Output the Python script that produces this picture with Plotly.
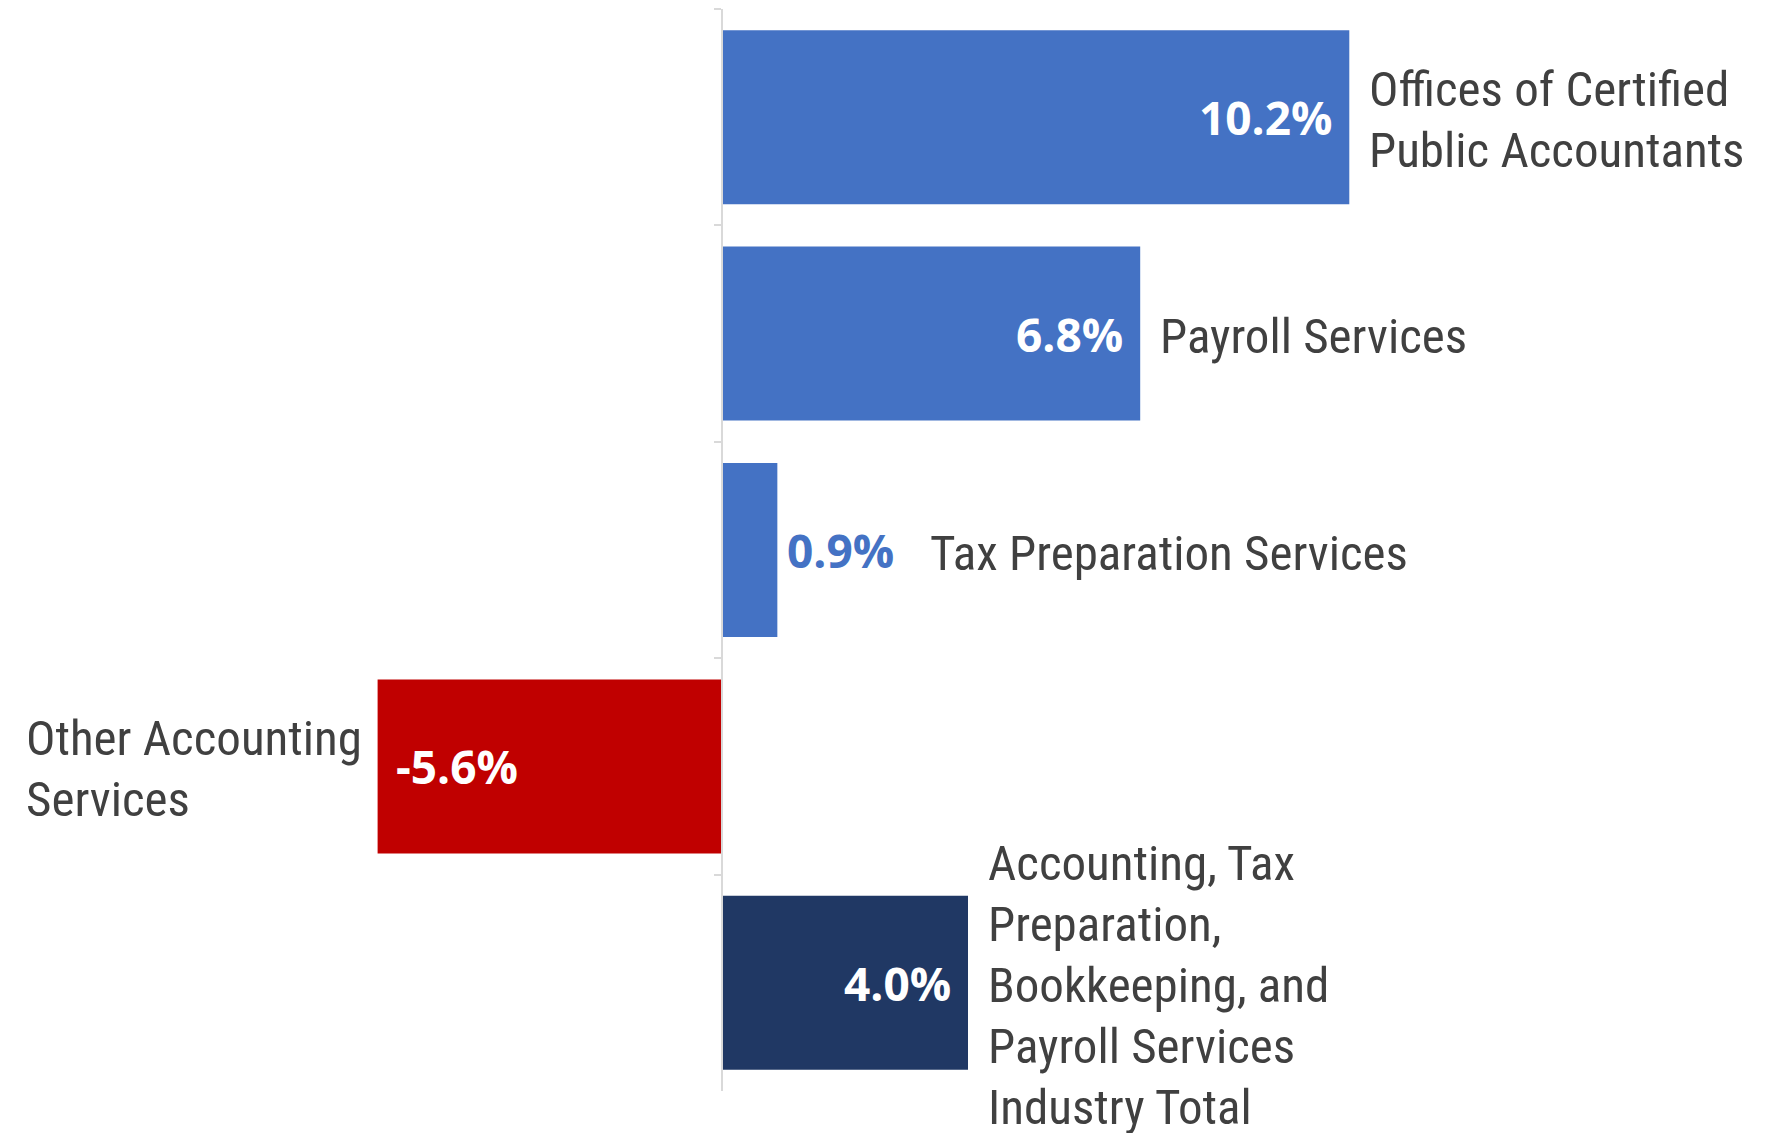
import plotly.graph_objects as go

# ---- data ----
categories = [
    "Offices of Certified Public Accountants",
    "Payroll Services",
    "Tax Preparation Services",
    "Other Accounting Services",
    "Accounting, Tax Preparation, Bookkeeping, and Payroll Services Industry Total",
]
values = [10.2, 6.8, 0.9, -5.6, 4.0]
value_labels = ["10.2%", "6.8%", "0.9%", "-5.6%", "4.0%"]
name_lines = [
    ["Offices of Certified", "Public Accountants"],
    ["Payroll Services"],
    ["Tax Preparation Services"],
    ["Other Accounting", "Services"],
    ["Accounting, Tax", "Preparation,", "Bookkeeping, and", "Payroll Services", "Industry Total"],
]
bar_colors = ["#4472C4", "#4472C4", "#4472C4", "#C00000", "#203864"]

# ---- layout constants ----
W, H = 1767, 1133
zero_px = 722.0
px_per_unit = 61.5
xmin = -zero_px / px_per_unit
xmax = (W - zero_px) / px_per_unit

name_font = dict(family="Liberation Sans Narrow, Arial Narrow, Roboto Condensed, DejaVu Sans Condensed, sans-serif",
                 size=49, color="#404040")
val_font_white = dict(family="Open Sans, Noto Sans, sans-serif", size=46, color="white", weight="bold")
val_font_blue = dict(family="Open Sans, Noto Sans, sans-serif", size=46, color="#4472C4", weight="bold")
line_gap = 61
inside_threshold = 2.0

fig = go.Figure(go.Bar(
    y=categories, x=values, orientation="h",
    marker=dict(color=bar_colors, line=dict(width=0)),
    hoverinfo="skip",
))

ann = []
for cat, v, vl, lines in zip(categories, values, value_labels, name_lines):
    inside = abs(v) > inside_threshold
    n = len(lines)
    if v >= 0:
        if inside:
            ann.append(dict(x=v, y=cat, xref="x", yref="y", text=vl, showarrow=False,
                            xanchor="right", yanchor="middle", xshift=-15, font=val_font_white))
            name_shift = 18
        else:
            ann.append(dict(x=v, y=cat, xref="x", yref="y", text=vl, showarrow=False,
                            xanchor="left", yanchor="middle", xshift=8, font=val_font_blue))
            name_shift = 151
        for i, ln in enumerate(lines):
            ann.append(dict(x=v, y=cat, xref="x", yref="y", text=ln, showarrow=False,
                            xanchor="left", yanchor="middle", xshift=name_shift,
                            yshift=((n - 1) / 2 - i) * line_gap - 3, font=name_font))
    else:
        ann.append(dict(x=v, y=cat, xref="x", yref="y", text=vl, showarrow=False,
                        xanchor="left", yanchor="middle", xshift=16, font=val_font_white))
        for i, ln in enumerate(lines):
            ann.append(dict(x=24 / W, y=cat, xref="paper", yref="y", text=ln, showarrow=False,
                            xanchor="left", yanchor="middle",
                            yshift=((n - 1) / 2 - i) * line_gap - 3, font=name_font))

fig.update_layout(
    width=W, height=H,
    margin=dict(l=0, r=0, t=9, b=42),
    paper_bgcolor="white", plot_bgcolor="white",
    bargap=0.196,
    showlegend=False,
    annotations=ann,
    xaxis=dict(range=[xmin, xmax], autorange=False, visible=False, fixedrange=True),
    yaxis=dict(
        type="category", range=[len(categories) - 0.5, -0.5], autorange=False,
        anchor="free", position=(0 - xmin) / (xmax - xmin),
        showline=True, linecolor="#d9d9d9", linewidth=1.5,
        ticks="outside", tickson="boundaries", ticklen=7, tickcolor="#d9d9d9", tickwidth=1.5,
        showticklabels=False, showgrid=False, zeroline=False, fixedrange=True,
    ),
)

fig.write_html("out.html", config={"displayModeBar": False},
               post_script="document.body.style.margin='0';document.body.style.overflow='hidden';")
